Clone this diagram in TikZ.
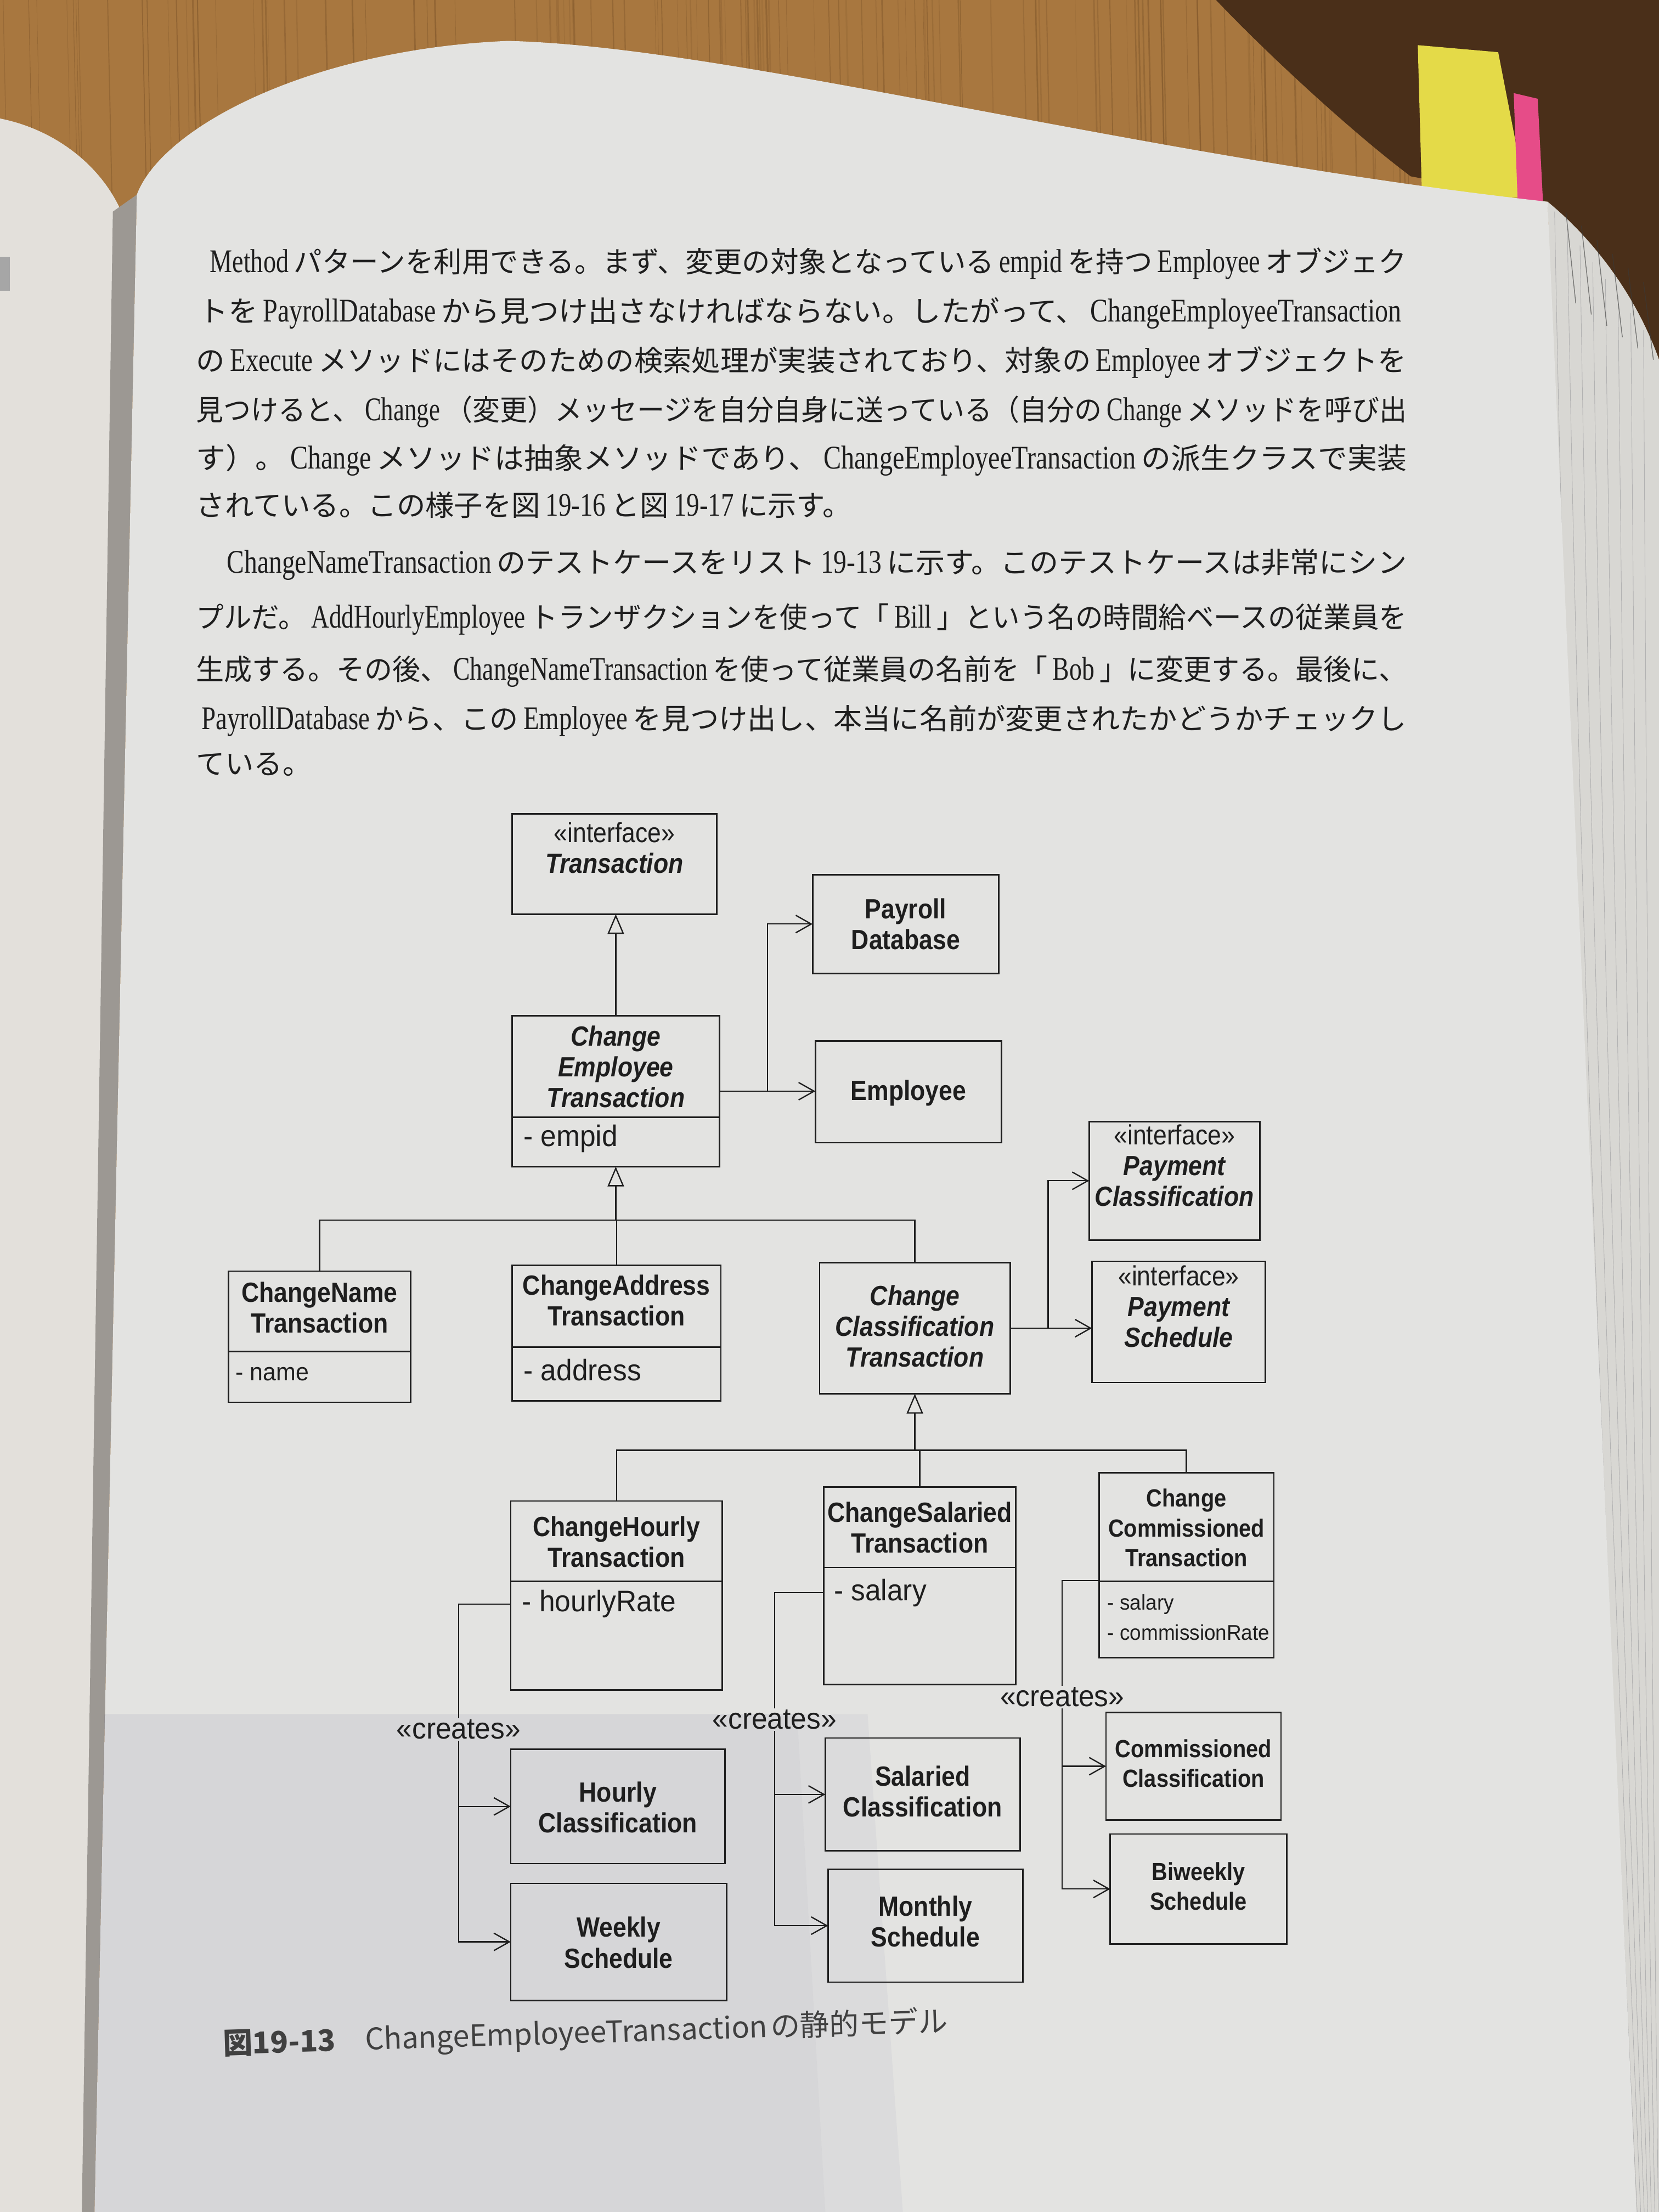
\documentclass[tikz,border=0pt]{standalone}
\usepackage{fontspec}
\usepackage{graphicx}
\usetikzlibrary{arrows.meta,calc}
\setmainfont{Liberation Serif}
\newfontfamily\jpfont{Noto Sans CJK JP}
\newfontfamily\latfont[FakeStretch=0.78,Scale=1.15]{Liberation Serif}
\newfontfamily\umlfont[FakeStretch=0.88]{Liberation Sans}
\newfontfamily\attrfont[FakeStretch=0.95]{Liberation Sans}
% Latin run inside Japanese body text
\newcommand\E[1]{\hspace{0.18em}{\latfont #1}\hspace{0.18em}}
% stretch a text line horizontally to a given width
\newcommand\fitto[2]{\resizebox{#1}{\height}{#2}}

\definecolor{wood}{HTML}{A8773F}
\definecolor{woodline}{HTML}{7A5228}
\definecolor{wooddark}{HTML}{4A2F19}
\definecolor{paper}{HTML}{E3E3E1}
\definecolor{leftpaper}{HTML}{E3E0DB}
\definecolor{gutter}{HTML}{9C9893}
\definecolor{block}{HTML}{D8D7D3}
\definecolor{ink}{HTML}{1E1E1E}
\definecolor{stickyY}{HTML}{E4DA48}
\definecolor{stickyP}{HTML}{E64C88}

\tikzset{
  umlbox/.style={draw=ink, line width=1.5pt, inner sep=0pt, outer sep=0pt},
  boxsize/.style 2 args={minimum width=#1*0.05cm, minimum height=#2*0.05cm},
  divline/.style={draw=ink, line width=1.5pt},
  conn/.style={draw=ink, line width=1.3pt},
  assoc/.style={conn, -{Straight Barb[length=0.55cm, width=0.62cm]}},
  gen/.style={conn, -{Triangle[open, length=0.7cm, width=0.58cm]}},
  ttl/.style={align=center, text=ink, inner sep=0pt, font=\umlfont\bfseries\fontsize{28}{31}\selectfont},
  ittl/.style={ttl, font=\umlfont\bfseries\itshape\fontsize{28}{31}\selectfont},
  ttlsmall/.style={ttl, font=\umlfont\bfseries\fontsize{25}{30}\selectfont},
  attr/.style={anchor=west, inner sep=0pt, text=ink, font=\attrfont\fontsize{30}{32}\selectfont},
  attrsmall/.style={attr, align=left, font=\attrfont\fontsize{21.5}{30}\selectfont},
  lbl/.style={inner sep=1.5pt, text=ink, font=\attrfont\fontsize{30}{32}\selectfont},
  bodyline/.style={anchor=west, inner sep=0pt, text=ink, font=\jpfont\fontsize{29}{29}\selectfont},
  captionline/.style={anchor=west, inner sep=0pt, text=ink!85, font=\jpfont\fontsize{30}{30}\selectfont},
}

\begin{document}
\begin{tikzpicture}[x=0.05cm, y=-0.05cm]
\useasboundingbox (0,0) rectangle (1176,1568);

% ---------- desk and book ----------
\fill[wood] (0,0) rectangle (1176,1568);
\pgfmathsetseed{3}
\foreach \i in {1,...,150}{
  \pgfmathsetmacro{\xx}{rnd*1176}
  \pgfmathsetmacro{\ww}{0.4+rnd*1.4}
  \pgfmathsetmacro{\op}{0.15+rnd*0.35}
  \draw[draw=woodline, line width=\ww pt, opacity=\op] (\xx,0) -- (\xx+4,180);
}
\fill[wooddark] (862,0) .. controls (900,40) and (960,95) .. (1000,125)
  -- (1097,143) .. controls (1130,170) and (1160,210) .. (1176,255) -- (1176,0) -- cycle;

% sticky notes
\fill[stickyY] (1005,32) -- (1062,37) -- (1082,140) -- (1008,140) -- cycle;
\fill[stickyP] (1073,66) -- (1090,70) -- (1094,148) -- (1076,148) -- cycle;

% facing page and gutter
\fill[leftpaper] (0,84) .. controls (40,92) and (72,118) .. (86,150) -- (62,1568) -- (0,1568) -- cycle;
\fill[gray!70] (0,182) rectangle (7,206);
\fill[gutter] (80,150) -- (97,138) -- (67,1568) -- (58,1568) -- cycle;

% page block on the right
\fill[block] (1097,143) .. controls (1130,170) and (1160,210) .. (1176,255) -- (1176,1568) -- (1150,1568) -- cycle;
\foreach \k in {0,...,7}{
  \draw[gray!60, line width=0.5pt] (1102+9*\k,150+12*\k) .. controls (1112+8*\k,700) and (1135+5*\k,1150) .. (1158+2.5*\k,1568);
}
\foreach \k in {0,...,5}{
  \draw[gray!45!black, line width=0.8pt, opacity=0.6] (1110+11*\k,150+10*\k) -- (1117+11*\k,215+8*\k);
}

% the page itself
\fill[paper] (97,138) .. controls (115,90) and (220,35) .. (360,29)
  .. controls (520,33) and (800,110) .. (1097,143) -- (1160,1568) -- (67,1568) -- cycle;
% shadow over the lower left of the page
\fill[blue!30!black, opacity=0.055] (74,1215) -- (565,1215) -- (585,1568) -- (67,1568) -- cycle;
\fill[blue!30!black, opacity=0.03] (565,1215) -- (615,1215) -- (640,1568) -- (585,1568) -- cycle;

% ---------- body text ----------
\node[bodyline] (t1) at (145,187) {\fitto{42.6cm}{\E{Method}パターンを利用できる。まず、変更の対象となっている\E{empid}を持つ\E{Employee}オブジェク}};
\node[bodyline] (t2) at (141,222) {\fitto{42.8cm}{トを\E{PayrollDatabase}から見つけ出さなければならない。したがって、\E{ChangeEmployeeTransaction}}};
\node[bodyline] (t3) at (139,257) {\fitto{42.9cm}{の\E{Execute}メソッドにはそのための検索処理が実装されており、対象の\E{Employee}オブジェクトを}};
\node[bodyline] (t4) at (139,292) {\fitto{42.9cm}{見つけると、\E{Change}（変更）メッセージを自分自身に送っている（自分の\E{Change}メソッドを呼び出}};
\node[bodyline] (t5) at (139,326) {\fitto{42.9cm}{す）。\E{Change}メソッドは抽象メソッドであり、\E{ChangeEmployeeTransaction}の派生クラスで実装}};
\node[bodyline] (t6) at (139,358) {されている。この様子を図\E{19-16}と図\E{19-17}に示す。};
\node[bodyline] (t7) at (157,400) {\fitto{42.0cm}{\E{ChangeNameTransaction}のテストケースをリスト\E{19-13}に示す。このテストケースは非常にシン}};
\node[bodyline] (t8) at (139,439) {\fitto{42.9cm}{プルだ。\E{AddHourlyEmployee}トランザクションを使って「\E{Bill}」という名の時間給ベースの従業員を}};
\node[bodyline] (t9) at (139,476) {\fitto{42.9cm}{生成する。その後、\E{ChangeNameTransaction}を使って従業員の名前を「\E{Bob}」に変更する。最後に、}};
\node[bodyline] (t10) at (139,511) {\fitto{42.9cm}{\E{PayrollDatabase}から、この\E{Employee}を見つけ出し、本当に名前が変更されたかどうかチェックし}};
\node[bodyline] (t11) at (139,542) {ている。};

% ---------- class boxes ----------
\node[umlbox, boxsize={145}{71}]  (trans) at (435.5,612.5) {};
\node[umlbox, boxsize={132}{70}]  (pdb)   at (642,655) {};
\node[umlbox, boxsize={147}{107}] (cet)   at (436.5,773.5) {};
\node[umlbox, boxsize={132}{72}]  (emp)   at (644,774) {};
\node[umlbox, boxsize={121}{84}]  (pc)    at (832.5,837) {};
\node[umlbox, boxsize={123}{86}]  (ps)    at (835.5,937) {};
\node[umlbox, boxsize={129}{93}]  (cnt)   at (226.5,947.5) {};
\node[umlbox, boxsize={148}{96}]  (cat)   at (437,945) {};
\node[umlbox, boxsize={135}{93}]  (cct)   at (648.5,941.5) {};
\node[umlbox, boxsize={150}{134}] (cht)   at (437,1131) {};
\node[umlbox, boxsize={136}{140}] (cst)   at (652,1124) {};
\node[umlbox, boxsize={124}{131}] (cmt)   at (841,1109.5) {};
\node[umlbox, boxsize={152}{81}]  (hc)    at (438,1280.5) {};
\node[umlbox, boxsize={153}{83}]  (ws)    at (438.5,1376.5) {};
\node[umlbox, boxsize={138}{80}]  (sc)    at (654,1272) {};
\node[umlbox, boxsize={138}{80}]  (ms)    at (656,1365) {};
\node[umlbox, boxsize={124}{76}]  (cc)    at (846,1252) {};
\node[umlbox, boxsize={125}{78}]  (bs)    at (849.5,1339) {};

% compartment dividers
\draw[divline] (cet.west |- 0,792)  -- (cet.east |- 0,792);
\draw[divline] (cnt.west |- 0,958)  -- (cnt.east |- 0,958);
\draw[divline] (cat.west |- 0,955)  -- (cat.east |- 0,955);
\draw[divline] (cht.west |- 0,1121) -- (cht.east |- 0,1121);
\draw[divline] (cst.west |- 0,1111) -- (cst.east |- 0,1111);
\draw[divline] (cmt.west |- 0,1121) -- (cmt.east |- 0,1121);

% ---------- class texts ----------
\node[ttl]  (transT) at (435.5,601) {{\mdseries «interface»}\\{\itshape Transaction}};
\node[ttl]  (pdbT)   at (642,655) {Payroll\\Database};
\node[ittl] (cetT)   at (436.5,756) {Change\\Employee\\Transaction};
\node[attr] (empid)  at (371,807) {- empid};
\node[ttl]  (empT)   at (644,775) {Employee};
\node[ittl] (pcT)    at (832.5,826) {{\mdseries\upshape «interface»}\\Payment\\Classification};
\node[ittl] (psT)    at (835.5,926) {{\mdseries\upshape «interface»}\\Payment\\Schedule};
\node[ttl]  (cntT)   at (226.5,927) {ChangeName\\Transaction};
\node[attr, font=\attrfont\fontsize{25}{30}\selectfont] (nameA) at (167,974) {- name};
\node[ttl]  (catT)   at (437,922) {ChangeAddress\\Transaction};
\node[attr] (addrA)  at (371,971) {- address};
\node[ittl] (cctT)   at (648.5,940) {Change\\Classification\\Transaction};
\node[ttl]  (chtT)   at (437,1093) {ChangeHourly\\Transaction};
\node[attr] (hr)     at (370,1137) {- hourlyRate};
\node[ttl]  (cstT)   at (652,1083) {ChangeSalaried\\Transaction};
\node[attr] (sal)    at (591,1129) {- salary};
\node[ttlsmall] (cmtT) at (841,1083) {Change\\Commissioned\\Transaction};
\node[attrsmall] (cmA) at (785,1146.5) {- salary\\- commissionRate};
\node[ttl]  (hcT)    at (438,1281) {Hourly\\Classification};
\node[ttl]  (wsT)    at (438.5,1377) {Weekly\\Schedule};
\node[ttl]  (scT)    at (654,1270) {Salaried\\Classification};
\node[ttl]  (msT)    at (656,1362) {Monthly\\Schedule};
\node[ttlsmall] (ccT) at (846,1250) {Commissioned\\Classification};
\node[ttlsmall] (bsT) at (849.5,1337) {Biweekly\\Schedule};

% ---------- generalisation ----------
\draw[gen] (cet.north) -- (cet.north |- trans.south);
\coordinate (j1) at ($(cet.south)+(0,38)$);
\draw[gen] (j1) -- (cet.south);
\draw[conn] (cnt.north) |- (j1) -| (cct.north);
\draw[conn] (cat.north) -- (cat.north |- j1);
\coordinate (j2) at ($(cct.south)+(0,40)$);
\draw[gen] (j2) -- (cct.south);
\draw[conn] (cht.north) |- (j2) -| (cmt.north);
\draw[conn] (cst.north) -- (cst.north |- j2);

% ---------- associations ----------
\coordinate (b1) at ($(cet.east)+(34,0)$);
\draw[assoc] (cet.east) -- (cet.east -| emp.west);
\draw[assoc] (b1) |- (pdb.west);
\coordinate (b2) at ($(cct.east)+(27,0)$);
\draw[assoc] (cct.east) -- (cct.east -| ps.west);
\draw[assoc] (b2) |- (pc.west);

% ---------- creates ----------
\node[lbl] (cr1) at (325,1226) {«creates»};
\draw[conn] (cht.west |- hr.west) -| (cr1.north);
\draw[assoc] (cr1.south) |- (hc.west);
\draw[assoc] (cr1.south) |- (ws.west);

\node[lbl] (cr2) at (549,1219) {«creates»};
\draw[conn] (cst.west |- sal.west) -| (cr2.north);
\draw[assoc] (cr2.south) |- (sc.west);
\draw[assoc] (cr2.south) |- (ms.west);

\node[lbl] (cr3) at (753,1203) {«creates»};
\draw[conn] ($(cmt.west)+(0,11)$) -| (cr3.north);
\draw[assoc] (cr3.south) |- (cc.west);
\draw[assoc] (cr3.south) |- (bs.west);

% ---------- caption ----------
\node[captionline, rotate=1.8] (cap) at (158,1450)
  {\fitto{25.7cm}{{\bfseries 図19-13}\hspace{1em}ChangeEmployeeTransaction\hspace{0.1em}の静的モデル}};

\end{tikzpicture}
\end{document}
